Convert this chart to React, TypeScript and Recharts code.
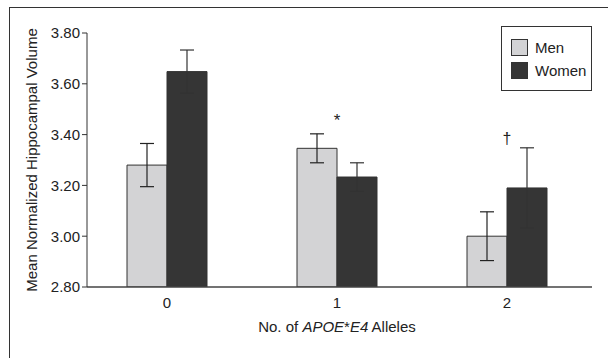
import React from 'react';
import { BarChart, Bar, XAxis, YAxis, ErrorBar, ReferenceDot, Label } from 'recharts';

const alleles = ['0', '1', '2'];
const menMeans = [3.28, 3.346, 3.0];
const menErrors = [0.085, 0.057, 0.096];
const womenMeans = [3.648, 3.233, 3.19];
const womenErrors = [0.085, 0.056, 0.158];
const annotationCategories = ['1', '2'];
const annotationValues = [3.45, 3.38];
const annotationMarks = ['*', '†'];
const yTicks = [2.8, 3.0, 3.2, 3.4, 3.6, 3.8];

const data = alleles.map((a, i) => ({
  allele: a,
  men: menMeans[i],
  menErr: menErrors[i],
  women: womenMeans[i],
  womenErr: womenErrors[i],
}));

const FONT = "'Liberation Sans Narrow', 'Liberation Sans', Arial, sans-serif";
const INK = '#222';

const LegendBox = () => (
  <div
    style={{
      position: 'absolute',
      left: 501,
      top: 26,
      width: 91,
      height: 65,
      border: '1px solid #333',
      boxSizing: 'border-box',
      background: '#fff',
      fontFamily: FONT,
      fontSize: 15,
      color: INK,
    }}
  >
    {[
      { name: 'Men', color: '#d3d3d5' },
      { name: 'Women', color: '#353535' },
    ].map((it, i) => (
      <div key={it.name} style={{ position: 'absolute', left: 9, top: 12 + i * 23, display: 'flex', alignItems: 'center' }}>
        <div style={{ width: 17, height: 17, background: it.color, border: '1px solid #333', boxSizing: 'border-box' }} />
        <span style={{ marginLeft: 7, lineHeight: '17px' }}>{it.name}</span>
      </div>
    ))}
  </div>
);

export default function App() {
  return (
    <div style={{ position: 'absolute', left: 0, top: 0, width: 608, height: 358, background: '#fff' }}>
      <div
        style={{
          position: 'absolute',
          left: 9,
          top: 7,
          width: 599,
          height: 351,
          borderTop: '1px solid #333',
          borderLeft: '1px solid #333',
        }}
      />
      <BarChart
        width={608}
        height={358}
        data={data}
        margin={{ top: 33, right: 16, left: 10, bottom: 31 }}
        barSize={40}
        barGap={0}
        style={{ position: 'absolute', left: 0, top: 0 }}
      >
        <XAxis
          dataKey="allele"
          tickLine={false}
          axisLine={{ stroke: '#444', strokeWidth: 1.5 }}
          tick={{ fill: INK, fontSize: 15, fontFamily: FONT }}
          tickMargin={4}
          height={40}
          padding={{ left: -5, right: 0 }}
        >
          <Label
            content={({ viewBox }: any) => (
              <text
                x={337}
                y={viewBox.y + 41}
                textAnchor="middle"
                dominantBaseline="middle"
                fontFamily={FONT}
                fontSize={15}
                fill={INK}
              >
                <tspan>No. of </tspan>
                <tspan fontStyle="italic">APOE</tspan>
                <tspan>*</tspan>
                <tspan fontStyle="italic">E4</tspan>
                <tspan> Alleles</tspan>
              </text>
            )}
          />
        </XAxis>
        <YAxis
          domain={[2.8, 3.8]}
          ticks={yTicks}
          tickFormatter={(v: number) => v.toFixed(2)}
          tickSize={5}
          tickLine={{ stroke: '#333' }}
          axisLine={{ stroke: '#333' }}
          tick={{ fill: INK, fontSize: 15, fontFamily: FONT }}
          tickMargin={2}
          width={77}
          allowDataOverflow
        >
          <Label
            content={({ viewBox }: any) => (
              <text
                x={0}
                y={0}
                transform={`translate(${viewBox.x + 23}, ${viewBox.y + viewBox.height / 2}) rotate(-90)`}
                textAnchor="middle"
                dominantBaseline="middle"
                fontFamily={FONT}
                fontSize={15}
                fill={INK}
              >
                Mean Normalized Hippocampal Volume
              </text>
            )}
          />
        </YAxis>
        <Bar dataKey="men" fill="#d3d3d5" stroke="#333" strokeWidth={1} isAnimationActive={false}>
          <ErrorBar dataKey="menErr" width={7} stroke="#222" strokeWidth={1.2} direction="y" />
        </Bar>
        <Bar dataKey="women" fill="#353535" stroke="#333" strokeWidth={1} isAnimationActive={false}>
          <ErrorBar dataKey="womenErr" width={7} stroke="#333" strokeWidth={1.2} direction="y" />
        </Bar>
        {annotationCategories.map((c, i) => (
          <ReferenceDot
            key={c}
            x={c}
            y={annotationValues[i]}
            r={0}
            stroke="none"
            fill="none"
            label={(props: any) => {
              const vb = props.viewBox || {};
              const cx = vb.x + (vb.width || 0) / 2;
              const cy = vb.y + (vb.height || 0) / 2;
              return (
                <text
                  x={cx}
                  y={cy}
                  textAnchor="middle"
                  dominantBaseline="middle"
                  fontFamily={FONT}
                  fontSize={i === 0 ? 17 : 16}
                  fill={INK}
                >
                  {annotationMarks[i]}
                </text>
              );
            }}
          />
        ))}
      </BarChart>
      <LegendBox />
    </div>
  );
}
